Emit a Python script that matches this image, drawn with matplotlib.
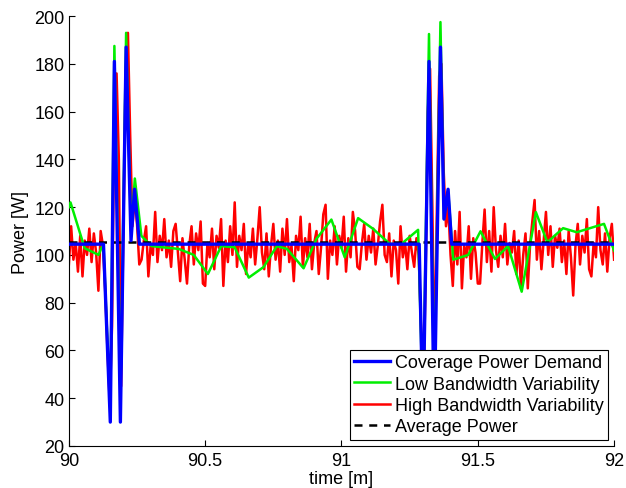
import numpy as np
import matplotlib
matplotlib.use("Agg")
import matplotlib.pyplot as plt

plt.rcParams['font.family'] = ['Liberation Sans', 'DejaVu Sans']

# coverage power demand (breakpoints, time in minutes)
blue_t = [90.0, 90.127, 90.152, 90.167, 90.189, 90.210, 90.228, 90.241, 90.259,
          91.285, 91.299, 91.321, 91.340, 91.363, 91.376, 91.391, 91.404, 92.0]
blue_p = [104.5, 104.5, 30, 181, 30, 187, 106, 127.5, 104.5,
          104.5, 30, 181, 30, 187, 115, 127.5, 104.5, 104.5]

# low bandwidth variability
green_t = [90.0, 90.006, 90.058, 90.109, 90.119, 90.127, 90.152, 90.167, 90.189,
           90.210, 90.228, 90.242, 90.266, 90.303, 90.403, 90.458, 90.510, 90.559,
           90.608, 90.660, 90.714, 90.763, 90.800, 90.861, 90.908, 90.963, 91.012,
           91.061, 91.116, 91.177, 91.220, 91.281, 91.299, 91.321, 91.340, 91.363,
           91.376, 91.391, 91.410, 91.465, 91.510, 91.563, 91.611, 91.661, 91.713,
           91.755, 91.813, 91.863, 91.963, 92.0]
green_p = [120, 122, 102.8, 100, 102.8, 104, 35, 187.5, 40,
           193, 110, 132, 108, 103.7, 102.5, 100, 92, 103.7,
           103.2, 90.5, 94.9, 103.7, 102.5, 94.4, 106.7, 114.8, 99,
           115.4, 110.9, 104.6, 104.6, 110.5, 35, 192.5, 40, 197.5,
           115, 127, 98, 100, 109.9, 98.3, 103.7, 84.6, 117.9,
           105.3, 111.2, 109.5, 113, 101.8]

# high bandwidth variability, sampled every 0.5 s
red_p = [96, 112, 98, 105, 93, 108, 91, 106, 100, 111, 97, 109, 101, 85, 110, 104,
         85, 60, 38, 70, 158, 176, 140, 45, 110, 177, 193, 150, 112, 124, 113, 96,
         98, 106, 112, 91, 104, 100, 118, 97, 108, 102, 115, 99,
         106, 95, 110, 113, 101, 89, 107, 98, 88, 104, 112, 96,
         109, 102, 114, 88, 87, 105, 99, 111, 94, 108, 103, 115,
         87, 106, 97, 112, 100, 122, 95, 108, 102, 113, 92, 105,
         99, 111, 96, 107, 120, 101, 94, 109, 91, 104, 113, 98,
         106, 93, 111, 100, 115, 97, 104, 89, 108, 102, 116, 95,
         107, 99, 113, 94, 105, 110, 92, 103, 117, 121, 90, 106,
         100, 112, 96, 108, 103, 116, 93, 107, 99, 118, 110, 95,
         94, 105, 113, 98, 108, 101, 111, 96, 104, 114, 121, 100,
         97, 109, 91, 106, 102, 88, 112, 99, 105, 94, 108, 101, 95, 107,
         100, 70, 40, 90, 160, 178, 120, 50, 120, 175, 180, 135, 112, 120, 100,
         87, 110, 96, 118, 86, 104, 99, 112, 90, 107, 101, 88,
         88, 105, 119, 97, 110, 93, 120, 102, 95, 108, 99, 113,
         96, 105, 101, 110, 92, 106, 86, 100, 109, 86, 104, 114,
         123, 98, 110, 94, 106, 118, 100, 112, 95, 108, 103, 111,
         97, 106, 92, 110, 99, 83, 104, 113, 96, 108, 101, 115,
         94, 91, 105, 99, 120, 102, 96, 109, 93, 107, 113, 98]
red_t = 90 + np.arange(len(red_p)) / 120.0

avg_power = 105.4

fig = plt.figure(figsize=(6.26, 4.89), dpi=100)
ax = fig.add_axes([0.110, 0.086, 0.871, 0.879])

l_red, = ax.plot(red_t, red_p, color='#ff0000', lw=1.8, label='High Bandwidth Variability', zorder=2)
l_green, = ax.plot(green_t, green_p, color='#00ee00', lw=1.8, label='Low Bandwidth Variability', zorder=3)
l_avg, = ax.plot([90, 92], [avg_power, avg_power], color='black', lw=1.8,
                 dashes=(3.2, 2.7), label='Average Power', zorder=4)
l_blue, = ax.plot(blue_t, blue_p, color='#0000ff', lw=2.4, label='Coverage Power Demand', zorder=5)

ax.set_xlim(90, 92)
ax.set_ylim(20, 200)
ax.set_xticks([90, 90.5, 91, 91.5, 92])
ax.set_xticklabels(['90', '90.5', '91', '91.5', '92'])
ax.set_yticks(np.arange(20, 201, 20))
ax.tick_params(direction='in', length=4, labelsize=13, width=0.8)
ax.tick_params(axis='x', pad=4)
ax.tick_params(axis='y', pad=3)
ax.spines['top'].set_visible(False)
ax.spines['right'].set_visible(False)
ax.set_xlabel('time [m]', fontsize=13, labelpad=1)
ax.set_ylabel('Power [W]', fontsize=13, labelpad=4)

leg = ax.legend(handles=[l_blue, l_green, l_red, l_avg], loc='lower right',
                bbox_to_anchor=(0.989, 0.014), borderaxespad=0, fontsize=13,
                fancybox=False, framealpha=1, edgecolor='black',
                handlelength=2.0, handletextpad=0.25, labelspacing=0.24,
                borderpad=0.25)
leg.get_frame().set_linewidth(0.8)

fig.savefig('out.png', dpi=100)
